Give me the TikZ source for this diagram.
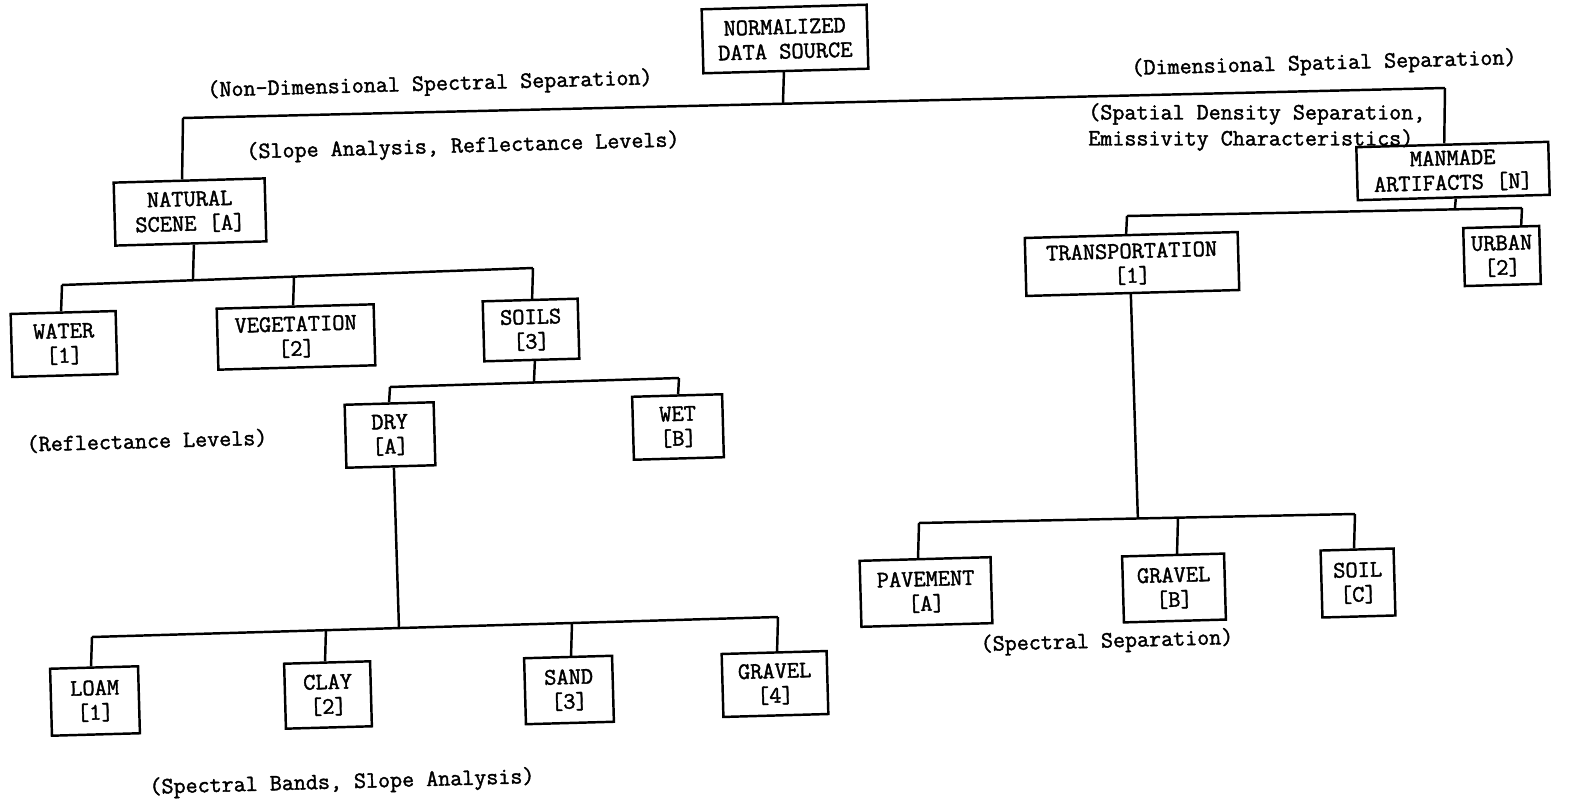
\documentclass[tikz,border=0pt]{standalone}
\usepackage{fontspec}
\usetikzlibrary{calc}
\newfontfamily\twfont[FakeBold=1.6]{Latin Modern Mono}
\newcommand\boxfont{\twfont\fontsize{13.5}{14}\selectfont}
\newcommand\lblfont{\twfont\fontsize{13.3}{14.6}\selectfont}
\begin{document}
\begin{tikzpicture}[x=0.02cm,y=-0.02cm,
  box/.style={draw, line width=1.4pt, rotate=1.6, font=\boxfont, align=center, inner sep=0pt},
  lbl/.style={rotate=1.6, font=\lblfont, inner sep=0pt},
  flatlbl/.style={font=\lblfont, inner sep=0pt},
  conn/.style={line width=1.4pt}]
\useasboundingbox (0,0) rectangle (1570,804);
\fill[white] (0,0) rectangle (1570,804);

% boxes
\node[box, minimum width=3.3cm, minimum height=1.28cm] (src) at (785,39) {NORMALIZED\\DATA SOURCE};
\node[box, minimum width=3.02cm, minimum height=1.26cm] (nat) at (190,212) {NATURAL\\SCENE [A]};
\node[box, minimum width=3.84cm, minimum height=1.06cm] (man) at (1453,171) {MANMADE\\ARTIFACTS [N]};
\node[box, minimum width=4.26cm, minimum height=1.16cm] (trans) at (1132,264) {TRANSPORTATION\\{}[1]};
\node[box, minimum width=1.52cm, minimum height=1.16cm] (urban) at (1502,256) {URBAN\\{}[2]};
\node[box, minimum width=2.1cm, minimum height=1.26cm] (water) at (64,344) {WATER\\{}[1]};
\node[box, minimum width=3.14cm, minimum height=1.22cm] (veg) at (296,337) {VEGETATION\\{}[2]};
\node[box, minimum width=1.9cm, minimum height=1.2cm] (soils) at (531,330) {SOILS\\{}[3]};
\node[box, minimum width=1.78cm, minimum height=1.26cm] (dry) at (390,435) {DRY\\{}[A]};
\node[box, minimum width=1.8cm, minimum height=1.26cm] (wet) at (678,427) {WET\\{}[B]};
\node[box, minimum width=1.76cm, minimum height=1.34cm] (loam) at (95,701) {LOAM\\{}[1]};
\node[box, minimum width=1.72cm, minimum height=1.3cm] (clay) at (328,695) {CLAY\\{}[2]};
\node[box, minimum width=1.76cm, minimum height=1.32cm] (sand) at (569,690) {SAND\\{}[3]};
\node[box, minimum width=2.1cm, minimum height=1.26cm] (grav4) at (775,684) {GRAVEL\\{}[4]};
\node[box, minimum width=2.62cm, minimum height=1.32cm] (pave) at (926,592) {PAVEMENT\\{}[A]};
\node[box, minimum width=2.04cm, minimum height=1.32cm] (gravB) at (1174,588) {GRAVEL\\{}[B]};
\node[box, minimum width=1.46cm, minimum height=1.34cm] (soilC) at (1358,583) {SOIL\\{}[C]};

% main bus
\coordinate (bL) at (183,118); \coordinate (bR) at (1445,88);
\draw[conn] ([xshift=-0.04cm]src.south) -- ($(bL)!0.4754!(bR)$);
\draw[conn] (bL) -- (bR);
\draw[conn] (bL) -- ([xshift=-0.14cm]nat.north);
\draw[conn] (bR) -- ([xshift=-0.16cm]man.north);

% natural scene bus
\coordinate (nL) at (62,285); \coordinate (nR) at (533,268);
\draw[conn] ([xshift=0.06cm]nat.south) -- ($(nL)!0.278!(nR)$);
\draw[conn] (nL) -- (nR);
\draw[conn] (nL) -- ([xshift=-0.04cm]water.north);
\draw[conn] ($(nL)!0.4926!(nR)$) -- ([xshift=-0.04cm]veg.north);
\draw[conn] (nR) -- ([xshift=0.04cm]soils.north);

% soils bus
\coordinate (sL) at (390,387); \coordinate (sR) at (679,378);
\draw[conn] ([xshift=0.06cm]soils.south) -- ($(sL)!0.498!(sR)$);
\draw[conn] (sL) -- (sR);
\draw[conn] (sL) -- (dry.north);
\draw[conn] (sR) -- ([xshift=0.02cm]wet.north);

% dry bus
\coordinate (dL) at (92,637); \coordinate (dR) at (778,617);
\draw[conn] ([xshift=0.06cm]dry.south) -- ($(dL)!0.4475!(dR)$);
\draw[conn] (dL) -- (dR);
\draw[conn] (dL) -- ([xshift=-0.06cm]loam.north);
\draw[conn] ($(dL)!0.341!(dR)$) -- ([xshift=-0.04cm]clay.north);
\draw[conn] ($(dL)!0.6997!(dR)$) -- ([xshift=0.06cm]sand.north);
\draw[conn] (dR) -- ([xshift=0.06cm]grav4.north);

% manmade bus
\coordinate (mL) at (1127,216); \coordinate (mR) at (1522,208);
\draw[conn] ([xshift=0.04cm]man.south) -- ($(mL)!0.830!(mR)$);
\draw[conn] (mL) -- (mR);
\draw[conn] (mL) -- ([xshift=-0.1cm]trans.north);
\draw[conn] (mR) -- ([xshift=0.4cm]urban.north);

% transportation bus
\coordinate (tL) at (919,523); \coordinate (tR) at (1355,514);
\draw[conn] ([xshift=-0.04cm]trans.south) -- ($(tL)!0.502!(tR)$);
\draw[conn] (tL) -- (tR);
\draw[conn] (tL) -- ([xshift=-0.14cm]pave.north);
\draw[conn] ($(tL)!0.594!(tR)$) -- ([xshift=0.08cm]gravB.north);
\draw[conn] (tR) -- ([xshift=-0.06cm]soilC.north);

% labels
\node[lbl] (l1) at (430,85) {(Non-Dimensional Spectral Separation)};
\node[lbl] (l2) at (463,147) {(Slope Analysis, Reflectance Levels)};
\node[lbl] (l3) at (1324,64) {(Dimensional Spatial Separation)};
\node[flatlbl, anchor=west] (l4a) at (1088,114) {(Spatial Density Separation,};
\node[flatlbl, anchor=west] (l4b) at (1088,140) {Emissivity Characteristics)};
\node[lbl] (l5) at (147,441) {(Reflectance Levels)};
\node[lbl] (l6) at (342,783) {(Spectral Bands, Slope Analysis)};
\node[lbl] (l7) at (1107,642) {(Spectral Separation)};
\end{tikzpicture}
\end{document}
